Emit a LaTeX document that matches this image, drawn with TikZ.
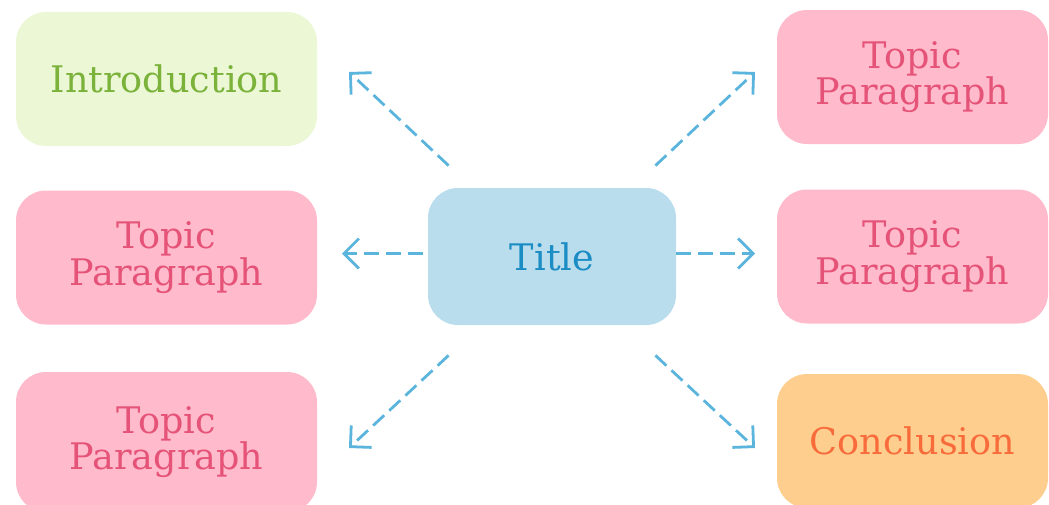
\documentclass[tikz,border=0pt]{standalone}
\usepackage{fontspec}
\setmainfont{DejaVu Serif}
\usetikzlibrary{arrows.meta, calc}
\definecolor{introfill}{HTML}{EBF7D5}
\definecolor{introtext}{HTML}{7AB23A}
\definecolor{topicfill}{HTML}{FFBBCC}
\definecolor{topictext}{HTML}{E65378}
\definecolor{titlefill}{HTML}{B9DDEC}
\definecolor{titletext}{HTML}{1B8CC4}
\definecolor{endfill}{HTML}{FECE8F}
\definecolor{endtext}{HTML}{F86C3B}
\definecolor{linkblue}{HTML}{5AB4DC}

\tikzset{
  box/.style={rounded corners=15pt, align=center, inner sep=0pt,
    font=\fontsize{18.3}{18.3}\selectfont},
  leftbox/.style={box, minimum width=150.5pt, minimum height=67pt},
  rightbox/.style={box, minimum width=135.5pt, minimum height=67pt},
  link/.style={linkblue, line width=1.4pt, dash pattern=on 7.5pt off 3.5pt,
    -{Straight Barb[length=7.5pt, width=15pt, line width=1.4pt]}}
}

\begin{document}
\begin{tikzpicture}[x=0.5pt, y=-0.5pt]

% Page (pixel grid of the reference)
\useasboundingbox (0,0) rectangle (1049,504);
\clip (0,0) rectangle (1049,504);

% Centre
\node[box, fill=titlefill, text=titletext, minimum width=124pt, minimum height=68.5pt]
  (title) at (552,256.5) {Title};

% Left column
\node[leftbox, fill=introfill, text=introtext] (intro) at (166.5,79) {Introduction};
\node[leftbox, fill=topicfill, text=topictext] (topicL1) at (166.5,257.5) {Topic\\Paragraph};
\node[leftbox, fill=topicfill, text=topictext, minimum height=70pt] (topicL2) at (166.5,442) {Topic\\Paragraph};

% Right column (runs off the right edge)
\node[rightbox, fill=topicfill, text=topictext] (topicR1) at (912.5,77) {Topic\\Paragraph};
\node[rightbox, fill=topicfill, text=topictext] (topicR2) at (912.5,256.5) {Topic\\Paragraph};
\node[rightbox, fill=endfill, text=endtext] (concl) at (912.5,441) {Conclusion};

% Arrow tips
\coordinate (tipUL) at (349,72);
\coordinate (tipUR) at (755,72);
\coordinate (tipL)  at (342,253.5);
\coordinate (tipR)  at (755,253.5);
\coordinate (tipLL) at (349,448);
\coordinate (tipLR) at (755,448);

% Dashed arrows out of the title
\draw[link] ([shift={(21,-22)}]title.north west) -- (tipUL);
\draw[link] ([shift={(-21,-22)}]title.north east) -- (tipUR);
\draw[link] ([shift={(-5,-3)}]title.west) -- (tipL);
\draw[link] ([shift={(0,-3)}]title.east) -- (tipR);
\draw[link] ([shift={(21,30)}]title.south west) -- (tipLL);
\draw[link] ([shift={(-21,30)}]title.south east) -- (tipLR);

\end{tikzpicture}
\end{document}
